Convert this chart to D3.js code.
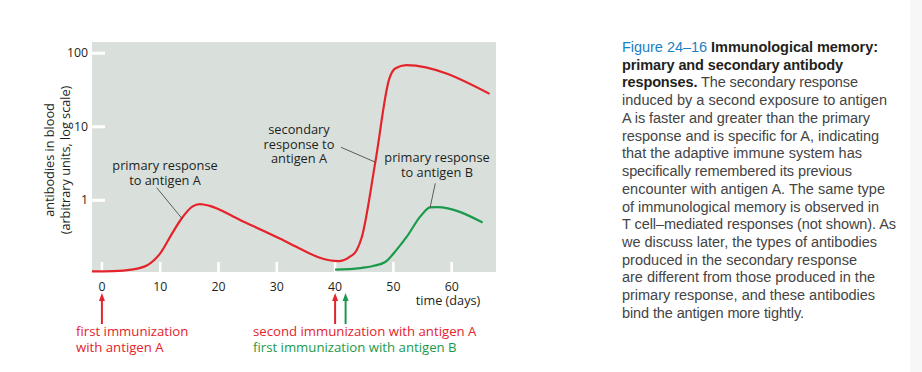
<!DOCTYPE html>
<html>
<head>
<meta charset="utf-8">
<script src="https://cdn.jsdelivr.net/npm/d3@7"></script>
<style>
body { margin: 0; background: #fff; }
text { font-family: "Open Sans", sans-serif; }
.caption text { font-family: "Liberation Sans", Arial, sans-serif; }
</style>
</head>
<body>
<div id="chart"></div>
<script>
var WIDTH = 922;
var HEIGHT = 372;

var RED = "#e5232b";
var GREEN = "#1b9a4b";

// curves: [day, antibody level]
var primaryA = [[-1.7, 0.108], [2, 0.109], [5, 0.114], [7.7, 0.13], [10, 0.19], [12, 0.35],
    [13.7, 0.57], [15.5, 0.82], [16.8, 0.89], [18.5, 0.84], [23.7, 0.54], [30.6, 0.30],
    [34, 0.22], [37, 0.17], [39, 0.153], [40.6, 0.149], [42.5, 0.17], [43.7, 0.21], [44.6, 0.32],
    [46.9, 3.3], [49.3, 45], [50.3, 62], [52.2, 69], [66.5, 28]];
var primaryB = [[40, 0.114], [44.3, 0.12], [46.5, 0.128], [48.6, 0.145], [50.5, 0.21],
    [52.3, 0.32], [54.6, 0.6], [56.3, 0.80], [57.5, 0.81], [65.3, 0.5]];

var xTicks = [0, 10, 20, 30, 40, 50, 60];
var yTicks = [1, 10, 100];

var immunizations = [
    { day: 0, color: RED },
    { day: 40, color: RED },
    { day: 41.8, color: GREEN }
];

var captionLines = [
    [["Figure 24\u201316 ", "blue"], ["Immunological memory:", "bold"]],
    [["primary and secondary antibody", "bold"]],
    [["responses.", "bold"], [" The secondary response", "body"]],
    [["induced by a second exposure to antigen", "body"]],
    [["A is faster and greater than the primary", "body"]],
    [["response and is specific for A, indicating", "body"]],
    [["that the adaptive immune system has", "body"]],
    [["specifically remembered its previous", "body"]],
    [["encounter with antigen A. The same type", "body"]],
    [["of immunological memory is observed in", "body"]],
    [["T cell\u2013mediated responses (not shown). As", "body"]],
    [["we discuss later, the types of antibodies", "body"]],
    [["produced in the secondary response", "body"]],
    [["are different from those produced in the", "body"]],
    [["primary response, and these antibodies", "body"]],
    [["bind the antigen more tightly.", "body"]]
];
// right edge of each caption line in the figure
var captionEnds = [878, 843, 858, 887, 870, 879, 862, 852, 885, 879, 896, 877, 857, 875, 875, 804];

var svg = d3.select("#chart").append("svg")
    .attr("width", WIDTH)
    .attr("height", HEIGHT);

// faint page edge on the right
svg.append("rect")
    .attr("x", 910).attr("y", 0)
    .attr("width", WIDTH - 910).attr("height", HEIGHT)
    .attr("fill", "#f7f7f7");

var plot = { left: 92, right: 496, top: 42, bottom: 272 };

var x = d3.scaleLinear().domain([-1.7, 67.6]).range([plot.left, plot.right]);
var y = d3.scaleLog().domain([0.106, 142]).range([plot.bottom, plot.top]);

svg.append("rect")
    .attr("x", plot.left).attr("y", plot.top)
    .attr("width", plot.right - plot.left).attr("height", plot.bottom - plot.top)
    .attr("fill", "#d9e0dc");

// y axis: white tick marks inside plot, labels outside
var yAxis = svg.append("g").attr("class", "y-axis");
yAxis.selectAll("line").data(yTicks).enter().append("line")
    .attr("x1", plot.left).attr("x2", plot.left + 13)
    .attr("y1", function(d) { return y(d); })
    .attr("y2", function(d) { return y(d); })
    .attr("stroke", "#fff").attr("stroke-width", 3);
yAxis.selectAll("text").data(yTicks).enter().append("text")
    .attr("x", plot.left - 4)
    .attr("y", function(d) { return y(d) + 4; })
    .attr("text-anchor", "end")
    .attr("font-size", 12.3)
    .attr("fill", "#231f20")
    .text(function(d) { return d; });

var xAxis = svg.append("g").attr("class", "x-axis");
xAxis.selectAll("line").data(xTicks).enter().append("line")
    .attr("x1", function(d) { return x(d); })
    .attr("x2", function(d) { return x(d); })
    .attr("y1", plot.bottom - 10).attr("y2", plot.bottom)
    .attr("stroke", "#fff").attr("stroke-width", 2.5);
xAxis.selectAll("text").data(xTicks).enter().append("text")
    .attr("x", function(d) { return x(d); })
    .attr("y", 291)
    .attr("text-anchor", "middle")
    .attr("font-size", 12.3)
    .attr("fill", "#231f20")
    .text(function(d) { return d; });

svg.append("text")
    .attr("x", 448).attr("y", 304.5)
    .attr("text-anchor", "middle")
    .attr("font-size", 12.7)
    .attr("fill", "#231f20")
    .text("time (days)");

var yTitle = svg.append("text")
    .attr("transform", "translate(50,160) rotate(-90)")
    .attr("text-anchor", "middle")
    .attr("font-size", 12.7)
    .attr("fill", "#231f20");
yTitle.append("tspan").attr("x", 0).attr("dy", 4).text("antibodies in blood");
yTitle.append("tspan").attr("x", 0).attr("dy", 15.7).text("(arbitrary units, log scale)");

// curves
var line = d3.line()
    .x(function(d) { return x(d[0]); })
    .y(function(d) { return y(d[1]); })
    .curve(d3.curveMonotoneX);

svg.append("path").datum(primaryB)
    .attr("d", line)
    .attr("fill", "none")
    .attr("stroke", GREEN)
    .attr("stroke-width", 2.2);

svg.append("path").datum(primaryA)
    .attr("d", line)
    .attr("fill", "none")
    .attr("stroke", RED)
    .attr("stroke-width", 2.2);

// annotations with leader lines
var notes = [
    { lines: ["primary response", "to antigen A"], cx: 165, top: 170,
      from: [156.7, 187.7], to: [13.7, 0.57] },
    { lines: ["secondary", "response to", "antigen A"], cx: 299, top: 134,
      from: [341, 147.3], to: [46.9, 3.3] },
    { lines: ["primary response", "to antigen B"], cx: 437, top: 162,
      from: [435.3, 183.3], to: [56.3, 0.80] }
];

notes.forEach(function(n) {
    var t = svg.append("text")
        .attr("text-anchor", "middle")
        .attr("font-size", 12.8)
        .attr("fill", "#231f20");
    n.lines.forEach(function(s, i) {
        t.append("tspan")
            .attr("x", n.cx)
            .attr("y", n.top + i * 14.7)
            .text(s);
    });
    svg.append("line")
        .attr("x1", n.from[0]).attr("y1", n.from[1])
        .attr("x2", x(n.to[0])).attr("y2", y(n.to[1]))
        .attr("stroke", "#3a3a3a")
        .attr("stroke-width", 0.8);
});

// immunization arrows
var arrows = svg.append("g").selectAll("g").data(immunizations).enter().append("g");
arrows.append("line")
    .attr("x1", function(d) { return x(d.day); })
    .attr("x2", function(d) { return x(d.day); })
    .attr("y1", 299).attr("y2", 324)
    .attr("stroke", function(d) { return d.color; })
    .attr("stroke-width", 2);
arrows.append("path")
    .attr("d", function(d) {
        var cx = x(d.day);
        return "M" + (cx - 3) + ",301L" + cx + ",293L" + (cx + 3) + ",301Z";
    })
    .attr("fill", function(d) { return d.color; });

var immText = [
    { x: 76, y: 336, color: RED, text: "first immunization" },
    { x: 76, y: 351.5, color: RED, text: "with antigen A" },
    { x: 253, y: 336, color: RED, text: "second immunization with antigen A" },
    { x: 253, y: 351.5, color: GREEN, text: "first immunization with antigen B" }
];
svg.selectAll("text.imm").data(immText).enter().append("text")
    .attr("class", "imm")
    .attr("x", function(d) { return d.x; })
    .attr("y", function(d) { return d.y; })
    .attr("font-size", 13.2)
    .attr("fill", function(d) { return d.color; })
    .text(function(d) { return d.text; });

// caption
var styles = {
    blue: { fill: "#1b7fc4", weight: "normal" },
    bold: { fill: "#231f20", weight: "bold" },
    body: { fill: "#444444", weight: "normal" }
};
var captionLeft = 622;
var caption = svg.append("g").attr("class", "caption");
var captionTexts = [];
captionLines.forEach(function(parts, i) {
    var t = caption.append("text")
        .attr("x", captionLeft)
        .attr("y", 52 + i * 17.73)
        .attr("font-size", 14)
        .attr("xml:space", "preserve");
    parts.forEach(function(p) {
        t.append("tspan")
            .attr("fill", styles[p[1]].fill)
            .attr("font-weight", styles[p[1]].weight)
            .text(p[0]);
    });
    captionTexts.push(t);
});

// size the caption font from one body line, then fit each line to its width
var probe = captionTexts[3].node().getComputedTextLength();
var fontSize = Math.min(15, 14 * (captionEnds[3] - captionLeft) / probe);
captionTexts.forEach(function(t, i) {
    t.attr("font-size", fontSize)
        .attr("textLength", captionEnds[i] - captionLeft)
        .attr("lengthAdjust", "spacing");
});
</script>
</body>
</html>
